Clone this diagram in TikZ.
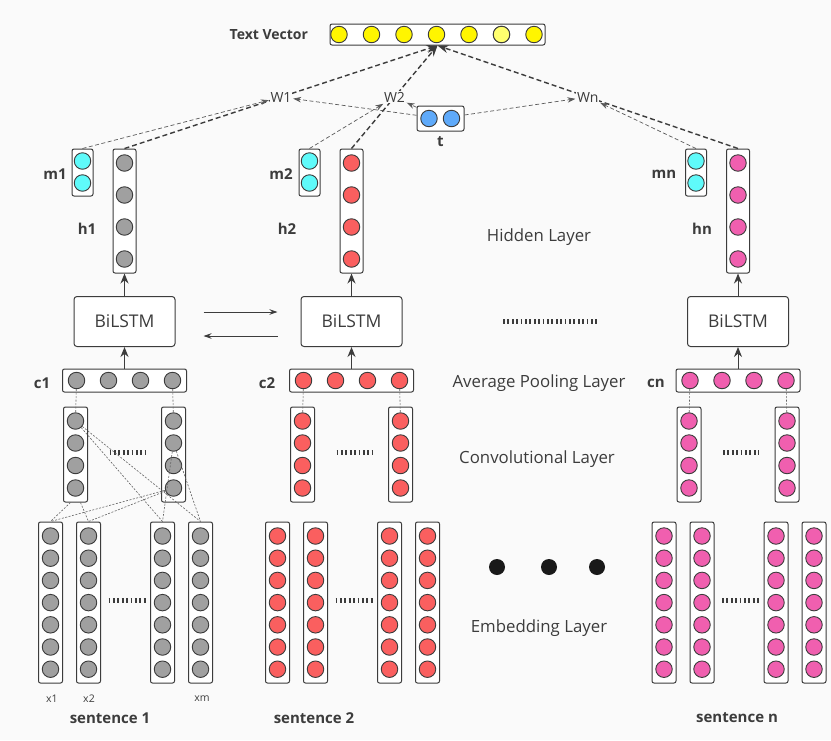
\documentclass[tikz,border=0pt]{standalone}
\usepackage{fontspec}
\setmainfont{Open Sans}
\usetikzlibrary{positioning,arrows.meta}
\definecolor{bg}{RGB}{250,250,250}
\definecolor{ink}{RGB}{60,60,60}
\definecolor{cellgray}{RGB}{160,160,160}
\definecolor{cellred}{RGB}{250,95,95}
\definecolor{cellpink}{RGB}{240,95,175}
\definecolor{cellcyan}{RGB}{95,250,250}
\definecolor{cellblue}{RGB}{95,170,250}
\definecolor{cellyellow}{RGB}{255,245,0}
\definecolor{paleyellow}{RGB}{255,255,110}

\begin{document}
\begin{tikzpicture}[x=1pt, y=-1pt, >={Stealth[length=8pt,width=5.5pt]},
	vec/.style = {draw=ink, line width=1pt, rounded corners=2pt, fill=white, inner sep=0pt},
	unit/.style = {draw=ink, circle, line width=0.9pt, minimum size=16.5pt, inner sep=0pt},
	lstm/.style = {draw=ink, line width=1pt, rounded corners=3pt, fill=white, minimum width=101pt,
		minimum height=50pt, text=ink, font=\fontsize{17.5}{20}\selectfont},
	tag/.style = {text=ink, font=\fontsize{15}{17}\selectfont\bfseries},
	lay/.style = {text=ink, font=\fontsize{16.8}{19}\selectfont},
	wt/.style = {fill=bg, inner sep=1pt, text=ink, font=\fontsize{14}{16}\selectfont},
	xs/.style = {text=ink, font=\fontsize{10.5}{12}\selectfont},
	up/.style = {draw=ink, line width=1pt, -{Stealth[length=10pt,width=8pt]}},
	strong/.style = {draw=ink, line width=1.4pt, dash pattern=on 5pt off 3pt, -{Stealth[length=11pt,width=8pt]}},
	weak/.style = {draw=ink!85, line width=0.7pt, dash pattern=on 4pt off 2.5pt, ->},
	link/.style = {draw=ink!80, line width=0.6pt, dash pattern=on 2pt off 1.5pt},
	dotline/.style = {draw=ink, line width=5pt, dash pattern=on 1.8pt off 2.6pt}]
	\fill[bg] (0,0) rectangle (831,740);
	\useasboundingbox (0,0) rectangle (831,740);

	\node[vec, minimum width=215pt, minimum height=21pt] (tv) at (437.5,34.5) {};
	\foreach \k in {0,...,6}
		\node[unit, fill=cellyellow] (tv-\k) at (339+32.5*\k,34.5) {};
	\node[unit, fill=paleyellow] at (tv-5) {};
	\node[text=ink, font=\fontsize{14}{16}\selectfont\bfseries, left=18pt of tv] (tvlabel) {Text Vector};
	\node[vec, minimum width=47pt, minimum height=25pt] (t) at (440.5,118.5) {};
	\node[unit, fill=cellblue] (t-1) at (429,118.5) {};
	\node[unit, fill=cellblue] (t-2) at (451.5,118.5) {};
	\node[tag, below=2pt of t] (tlabel) {t};

	\foreach \g/\bx/\col/\hx/\mx/\cx/\sx in {1/124.5/cellgray/87/55/42/110, 2/351.5/cellred/287/281/267/314, n/738/cellpink/702/664/656/737}{
		\node[lstm] (lstm\g) at (\bx,321.5) {BiLSTM};
		\node[vec, minimum width=23pt, minimum height=124pt] (h\g) at (\bx,211) {};
		\foreach \k/\y in {1/163,2/195,3/227,4/259}
			\node[unit, fill=\col] (h\g-\k) at (\bx,\y) {};
		\node[vec, minimum width=21pt, minimum height=47pt] (m\g) at (\bx-42,172.5) {};
		\foreach \k/\y in {1/161,2/183}
			\node[unit, fill=cellcyan] (m\g-\k) at (\bx-42,\y) {};
		\node[vec, minimum width=124pt, minimum height=23pt] (c\g) at (\bx,380.5) {};
		\foreach \k/\dx in {1/-48,2/-16,3/16,4/48}
			\node[unit, fill=\col] (c\g-\k) at (\bx+\dx,380.5) {};
		\foreach \s/\dx in {a/-49,b/49}{
			\node[vec, minimum width=24pt, minimum height=95pt] (cv\s\g) at (\bx+\dx,454.5) {};
			\foreach \k/\y in {1/421,2/443,3/465.5,4/488}
				\node[unit, fill=\col] (cv\s\g-\k) at (\bx+\dx,\y) {};
		}
		\foreach \j/\dx in {1/-74,2/-36,3/38,4/76}{
			\node[vec, minimum width=24pt, minimum height=161pt] (e\g-\j) at (\bx+\dx,602.5) {};
			\foreach \k in {0,...,6}
				\node[unit, fill=\col] at (\bx+\dx,536+22.2*\k) {};
		}
		\draw[dotline] (\bx-15,452) -- (\bx+21,452);
		\draw[dotline] (\bx-16,600.5) -- (\bx+21,600.5);
		\draw[link] (c\g-1) -- (cva\g-1);
		\draw[link] (c\g-4) -- (cvb\g-1);
		\draw[up] (c\g) -- (lstm\g);
		\draw[up] (lstm\g) -- (h\g);
		\node[tag] (mlabel\g) at (\mx,174) {m\g};
		\node[tag] (hlabel\g) at (\hx,229) {h\g};
		\node[tag] (clabel\g) at (\cx,383) {c\g};
		\node[tag] (slabel\g) at (\sx,718) {sentence \g};
		\draw[strong] (h\g.north) -- node[wt] (w\g) {W\g} (tv.south);
		\draw[weak] (m\g.north) -- (w\g);
		\draw[weak] (t) -- (w\g);
	}

	\draw[link] (cva1-1) -- (e1-3.north);
	\draw[link] (cva1-1) -- (e1-4.north);
	\draw[link] ([xshift=-5pt]cva1.south) -- (e1-1.north);
	\draw[link] ([xshift=5pt]cva1.south) -- (e1-2.north);
	\draw[link] (cvb1-4) -- (e1-1.north);
	\draw[link] (cvb1-4) -- (e1-2.north);
	\draw[link] (cvb1-2) -- (e1-3.north);
	\draw[link] (cvb1-2) -- (e1-4.north);

	\draw[->, draw=ink, line width=1pt, shorten <=28pt, shorten >=23pt] ([yshift=9.5pt]lstm1.east) -- ([yshift=9.5pt]lstm2.west);
	\draw[->, draw=ink, line width=1pt, shorten <=23pt, shorten >=28pt] ([yshift=-14.5pt]lstm2.west) -- ([yshift=-14.5pt]lstm1.east);
	\draw[dotline] (503,321) -- (598,321);

	\fill[black!90] (497,567) circle (8pt);
	\fill[black!90] (549,567) circle (8pt);
	\fill[black!90] (597,567) circle (8pt);

	\node[lay] (hidden) at (539,237) {Hidden Layer};
	\node[lay] (pool) at (539,383) {Average Pooling Layer};
	\node[lay] (conv) at (537,459) {Convolutional Layer};
	\node[lay] (embed) at (539,628) {Embedding Layer};

	\node[xs] (x1) at (52,699) {x1};
	\node[xs] (x2) at (89,699) {x2};
	\node[xs] (xm) at (202,699) {xm};
\end{tikzpicture}
\end{document}
